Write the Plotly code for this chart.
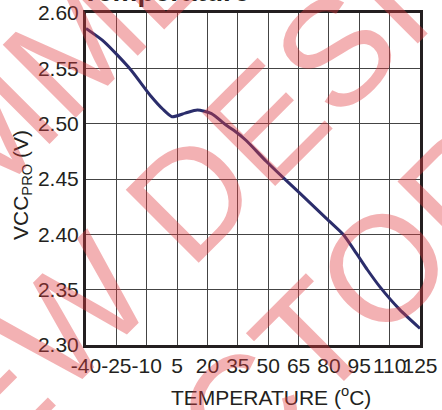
import plotly.graph_objects as go

# ---- data ----
temperature_c = [-40, -31, -18, -8, -2, 2.5, 9, 15, 22, 29, 33, 39, 49, 59, 66, 73, 80, 87, 93.5, 99, 105, 115, 125]
vccpro_v = [2.586, 2.574, 2.549, 2.525, 2.513, 2.5063, 2.5095, 2.5124, 2.509, 2.499, 2.494, 2.485,
            2.466, 2.4485, 2.4365, 2.4243, 2.4122, 2.400, 2.383, 2.368, 2.353, 2.332, 2.315]
x_ticks = [-40, -25, -10, 5, 20, 35, 50, 65, 80, 95, 110, 125]
x_tick_labels = ["-40", "-25", "-10", "5", "20", "35", "50", "65", "80", "95", "110", "125"]
y_ticks = [2.30, 2.35, 2.40, 2.45, 2.50, 2.55, 2.60]
y_tick_labels = ["2.30", "2.35", "2.40", "2.45", "2.50", "2.55", "2.60"]
watermark_lines = ["NOT RECOMMENDED", "FOR NEW DESIGNS", "CONTACT FACTORY"]
title_text = "Temperature"
x_title = "TEMPERATURE (<sup>o</sup>C)"
y_title = "VCC<sub>PRO</sub> (V)"

# ---- layout geometry (pixels) ----
W, H = 442, 410
L, R, T, B = 86, 420, 13, 345
PW, PH = R - L, B - T


def px(xp):
    return (xp - L) / PW


def py(yp):
    return (B - yp) / PH


FONT = "Liberation Sans, Arial, Helvetica, sans-serif"
TXT = "#231f20"

fig = go.Figure()
fig.add_trace(go.Scatter(
    x=temperature_c, y=vccpro_v, mode="lines",
    line=dict(color="#2b2d6b", width=3, shape="spline", smoothing=0.6),
    hoverinfo="skip", showlegend=False,
))

axis_common = dict(
    showgrid=True, gridcolor="#444444", gridwidth=1.3,
    showline=True, linecolor=TXT, linewidth=3, mirror=True,
    ticks="", zeroline=False, automargin=False, tickangle=0,
    tickfont=dict(family=FONT, size=21, color=TXT),
)
fig.update_xaxes(range=[-40, 125], tickmode="array", tickvals=x_ticks, ticktext=x_tick_labels, **axis_common)
fig.update_yaxes(range=[2.30, 2.60], tickmode="array", tickvals=y_ticks, ticktext=y_tick_labels, **axis_common)

annotations = []
# axis titles
annotations.append(dict(text=x_title, xref="paper", yref="paper", x=px(271), y=py(396),
                        xanchor="center", yanchor="middle", showarrow=False,
                        font=dict(family=FONT, size=21, color=TXT)))
annotations.append(dict(text=y_title, xref="paper", yref="paper", x=px(22), y=py(185),
                        xanchor="center", yanchor="middle", showarrow=False, textangle=-90,
                        font=dict(family=FONT, size=21, color=TXT)))
# cut-off title at top (only its lowest pixels show, as in the reference)
annotations.append(dict(text="<b>" + title_text + "</b>", xref="paper", yref="paper", x=px(80), y=py(9),
                        xanchor="left", yanchor="bottom", showarrow=False,
                        font=dict(family=FONT, size=28, color=TXT)))
# watermark
wm_centers = [(-63, 183), (126.8, 260.8), (55.5, 596)]
for text, (cx, cy) in zip(watermark_lines, wm_centers):
    annotations.append(dict(text=text, xref="paper", yref="paper", x=px(cx), y=py(cy),
                            xanchor="center", yanchor="middle", showarrow=False, textangle=-45,
                            font=dict(family=FONT, size=150, color="rgba(225,60,65,0.4)")))

fig.update_layout(
    width=W, height=H,
    margin=dict(l=L, r=W - R, t=T, b=H - B, pad=0),
    paper_bgcolor="white", plot_bgcolor="white",
    annotations=annotations,
)

fig.write_html("out.html", config={"displayModeBar": False},
               post_script="document.body.style.margin='0';document.body.style.overflow='hidden';")
